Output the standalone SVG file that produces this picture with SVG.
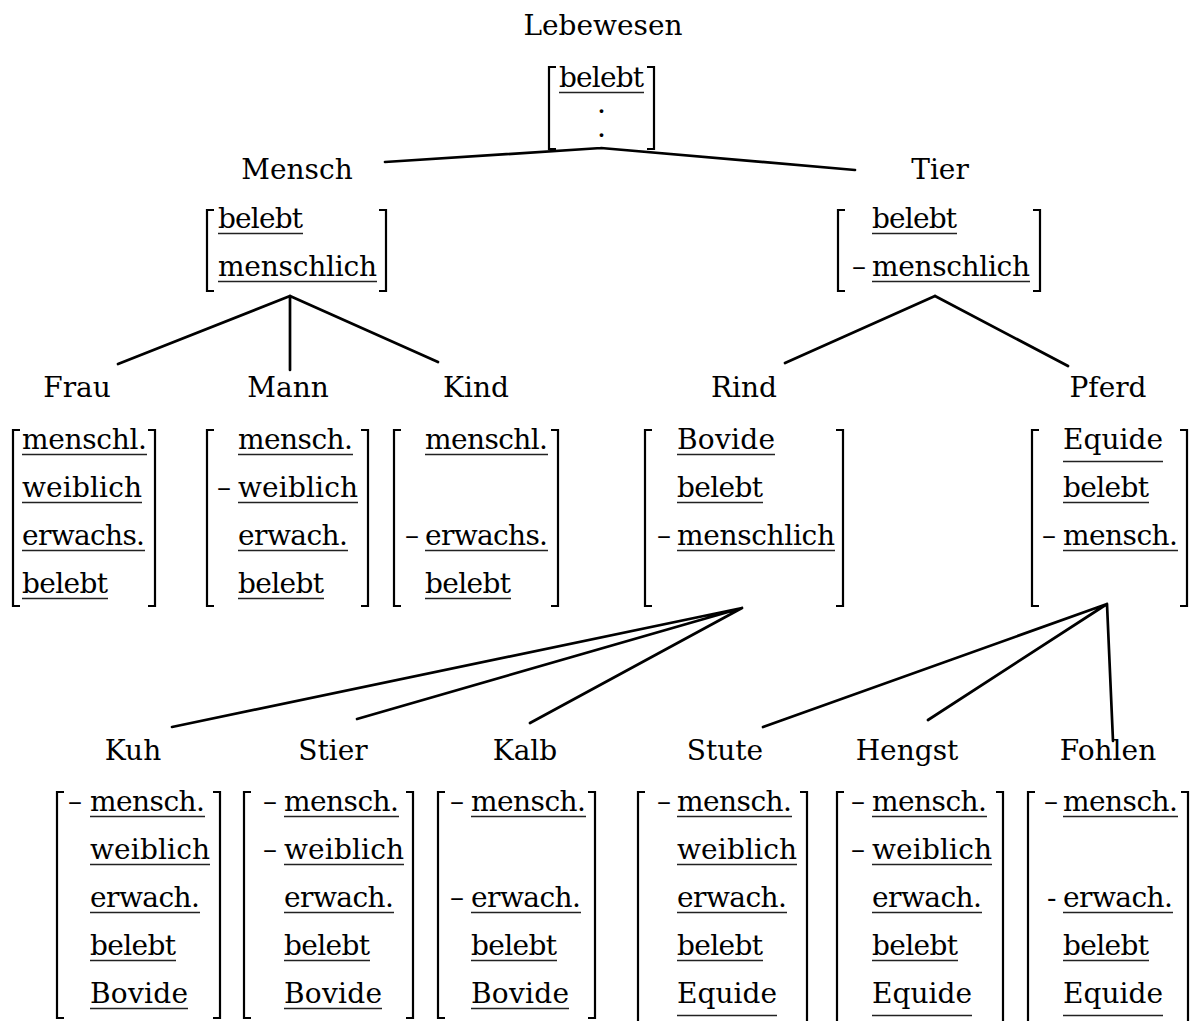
<svg xmlns="http://www.w3.org/2000/svg" width="1190" height="1021" viewBox="0 0 1190 1021">
  <style>
    text { font-family: "DejaVu Serif", "Liberation Serif", serif; font-size: 28px; fill: #000; }
    .lbl { text-anchor: middle; }
    .dot { font-size: 20px; font-weight: bold; text-anchor: middle; }
    .ul { stroke: #222; stroke-width: 1.4; fill: none; }
    .br { stroke: #000; stroke-width: 2.2; fill: none; }
    .edge { stroke: #000; stroke-width: 2.7; fill: none; stroke-linecap: round; }
  </style>
  <rect width="1190" height="1021" fill="#fff"/>

  <!-- connectors -->
  <g id="connectors">
    <path class="edge" d="M601 148 L385 162 M601 148 L855 170"/>
    <path class="edge" d="M290 296 L118 364 M290 296 L290 370 M290 296 L438 362"/>
    <path class="edge" d="M935 296 L785 363 M935 296 L1068 366"/>
    <path class="edge" d="M742 608 L172 727 M742 608 L357 719 M742 608 L530 723"/>
    <path class="edge" d="M1107 604 L763 727 M1107 604 L928 720 M1107 604 L1113 741"/>
  </g>

  <!-- root -->
  <g id="lebewesen">
    <text class="lbl" x="603" y="35">Lebewesen</text>
    <path class="br" d="M556 67 H549 V149 H556 M647 67 H654 V149 H647"/>
    <text x="559" y="87" textLength="85">belebt</text>
    <line class="ul" x1="559" y1="92.5" x2="644" y2="92.5"/>
    <text class="dot" x="601.5" y="113">.</text>
    <text class="dot" x="601.5" y="137">.</text>
  </g>

  <!-- second level -->
  <g id="mensch">
    <text class="lbl" x="297" y="179">Mensch</text>
    <path class="br" d="M214 210 H207 V291 H214 M379 210 H386 V291 H379"/>
    <text x="218" y="228" textLength="85">belebt</text>
    <line class="ul" x1="218" y1="233.5" x2="303" y2="233.5"/>
    <text x="218" y="276" textLength="159">menschlich</text>
    <line class="ul" x1="218" y1="281.5" x2="377" y2="281.5"/>
  </g>

  <g id="tier">
    <text class="lbl" x="940" y="179">Tier</text>
    <path class="br" d="M845 210 H838 V291 H845 M1033 210 H1040 V291 H1033"/>
    <text x="872" y="228" textLength="85">belebt</text>
    <line class="ul" x1="872" y1="233.5" x2="957" y2="233.5"/>
    <text x="852" y="276">–</text>
    <text x="872" y="276" textLength="158">menschlich</text>
    <line class="ul" x1="872" y1="281.5" x2="1030" y2="281.5"/>
  </g>

  <!-- third level -->
  <g id="frau">
    <text class="lbl" x="77" y="397">Frau</text>
    <path class="br" d="M20 430 H13 V606 H20 M148 430 H155 V606 H148"/>
    <text x="22" y="449" textLength="125">menschl.</text>
    <line class="ul" x1="22" y1="454.5" x2="147" y2="454.5"/>
    <text x="22" y="497" textLength="120">weiblich</text>
    <line class="ul" x1="22" y1="502.5" x2="142" y2="502.5"/>
    <text x="22" y="545" textLength="123">erwachs.</text>
    <line class="ul" x1="22" y1="550.5" x2="145" y2="550.5"/>
    <text x="22" y="593" textLength="86">belebt</text>
    <line class="ul" x1="22" y1="598.5" x2="108" y2="598.5"/>
  </g>

  <g id="mann">
    <text class="lbl" x="288" y="397">Mann</text>
    <path class="br" d="M214 430 H207 V606 H214 M361 430 H368 V606 H361"/>
    <text x="238" y="449" textLength="115">mensch.</text>
    <line class="ul" x1="238" y1="454.5" x2="353" y2="454.5"/>
    <text x="217" y="497">–</text>
    <text x="238" y="497" textLength="120">weiblich</text>
    <line class="ul" x1="238" y1="502.5" x2="358" y2="502.5"/>
    <text x="238" y="545" textLength="110">erwach.</text>
    <line class="ul" x1="238" y1="550.5" x2="348" y2="550.5"/>
    <text x="238" y="593" textLength="86">belebt</text>
    <line class="ul" x1="238" y1="598.5" x2="324" y2="598.5"/>
  </g>

  <g id="kind">
    <text class="lbl" x="476" y="397">Kind</text>
    <path class="br" d="M401 430 H394 V606 H401 M551 430 H558 V606 H551"/>
    <text x="425" y="449" textLength="123">menschl.</text>
    <line class="ul" x1="425" y1="454.5" x2="548" y2="454.5"/>
    <text x="405" y="545">–</text>
    <text x="425" y="545" textLength="123">erwachs.</text>
    <line class="ul" x1="425" y1="550.5" x2="548" y2="550.5"/>
    <text x="425" y="593" textLength="86">belebt</text>
    <line class="ul" x1="425" y1="598.5" x2="511" y2="598.5"/>
  </g>

  <g id="rind">
    <text class="lbl" x="744" y="397">Rind</text>
    <path class="br" d="M652 430 H645 V606 H652 M836 430 H843 V606 H836"/>
    <text x="677" y="449" textLength="98">Bovide</text>
    <line class="ul" x1="677" y1="454.5" x2="775" y2="454.5"/>
    <text x="677" y="497" textLength="86">belebt</text>
    <line class="ul" x1="677" y1="502.5" x2="763" y2="502.5"/>
    <text x="657" y="545">–</text>
    <text x="677" y="545" textLength="158">menschlich</text>
    <line class="ul" x1="677" y1="550.5" x2="835" y2="550.5"/>
  </g>

  <g id="pferd">
    <text class="lbl" x="1108" y="397">Pferd</text>
    <path class="br" d="M1039 430 H1032 V606 H1039 M1180 430 H1187 V606 H1180"/>
    <text x="1063" y="449" textLength="100">Equide</text>
    <line class="ul" x1="1063" y1="461.5" x2="1163" y2="461.5"/>
    <text x="1063" y="497" textLength="86">belebt</text>
    <line class="ul" x1="1063" y1="502.5" x2="1149" y2="502.5"/>
    <text x="1042" y="545">–</text>
    <text x="1063" y="545" textLength="115">mensch.</text>
    <line class="ul" x1="1063" y1="550.5" x2="1178" y2="550.5"/>
  </g>

  <!-- fourth level -->
  <g id="kuh">
    <text class="lbl" x="133" y="760">Kuh</text>
    <path class="br" d="M64 792 H57 V1018 H64 M213 792 H220 V1018 H213"/>
    <text x="68" y="811">–</text>
    <text x="90" y="811" textLength="115">mensch.</text>
    <line class="ul" x1="90" y1="816.5" x2="205" y2="816.5"/>
    <text x="90" y="859" textLength="120">weiblich</text>
    <line class="ul" x1="90" y1="864.5" x2="210" y2="864.5"/>
    <text x="90" y="907" textLength="110">erwach.</text>
    <line class="ul" x1="90" y1="912.5" x2="200" y2="912.5"/>
    <text x="90" y="955" textLength="86">belebt</text>
    <line class="ul" x1="90" y1="960.5" x2="176" y2="960.5"/>
    <text x="90" y="1003" textLength="98">Bovide</text>
    <line class="ul" x1="90" y1="1008.5" x2="188" y2="1008.5"/>
  </g>

  <g id="stier">
    <text class="lbl" x="333" y="760">Stier</text>
    <path class="br" d="M251 792 H244 V1018 H251 M406 792 H413 V1018 H406"/>
    <text x="263" y="811">–</text>
    <text x="284" y="811" textLength="115">mensch.</text>
    <line class="ul" x1="284" y1="816.5" x2="399" y2="816.5"/>
    <text x="263" y="859">–</text>
    <text x="284" y="859" textLength="120">weiblich</text>
    <line class="ul" x1="284" y1="864.5" x2="404" y2="864.5"/>
    <text x="284" y="907" textLength="110">erwach.</text>
    <line class="ul" x1="284" y1="912.5" x2="394" y2="912.5"/>
    <text x="284" y="955" textLength="86">belebt</text>
    <line class="ul" x1="284" y1="960.5" x2="370" y2="960.5"/>
    <text x="284" y="1003" textLength="98">Bovide</text>
    <line class="ul" x1="284" y1="1008.5" x2="382" y2="1008.5"/>
  </g>

  <g id="kalb">
    <text class="lbl" x="525" y="760">Kalb</text>
    <path class="br" d="M445 792 H438 V1018 H445 M588 792 H595 V1018 H588"/>
    <text x="450" y="811">–</text>
    <text x="471" y="811" textLength="115">mensch.</text>
    <line class="ul" x1="471" y1="816.5" x2="586" y2="816.5"/>
    <text x="450" y="907">–</text>
    <text x="471" y="907" textLength="110">erwach.</text>
    <line class="ul" x1="471" y1="912.5" x2="581" y2="912.5"/>
    <text x="471" y="955" textLength="86">belebt</text>
    <line class="ul" x1="471" y1="960.5" x2="557" y2="960.5"/>
    <text x="471" y="1003" textLength="98">Bovide</text>
    <line class="ul" x1="471" y1="1008.5" x2="569" y2="1008.5"/>
  </g>

  <g id="stute">
    <text class="lbl" x="725" y="760">Stute</text>
    <path class="br" d="M645 792 H638 V1030 M800 792 H807 V1030"/>
    <text x="657" y="811">–</text>
    <text x="677" y="811" textLength="115">mensch.</text>
    <line class="ul" x1="677" y1="816.5" x2="792" y2="816.5"/>
    <text x="677" y="859" textLength="120">weiblich</text>
    <line class="ul" x1="677" y1="864.5" x2="797" y2="864.5"/>
    <text x="677" y="907" textLength="110">erwach.</text>
    <line class="ul" x1="677" y1="912.5" x2="787" y2="912.5"/>
    <text x="677" y="955" textLength="86">belebt</text>
    <line class="ul" x1="677" y1="960.5" x2="763" y2="960.5"/>
    <text x="677" y="1003" textLength="100">Equide</text>
    <line class="ul" x1="677" y1="1015.5" x2="777" y2="1015.5"/>
  </g>

  <g id="hengst">
    <text class="lbl" x="907" y="760">Hengst</text>
    <path class="br" d="M844 792 H837 V1030 M996 792 H1003 V1030"/>
    <text x="851" y="811">–</text>
    <text x="872" y="811" textLength="115">mensch.</text>
    <line class="ul" x1="872" y1="816.5" x2="987" y2="816.5"/>
    <text x="851" y="859">–</text>
    <text x="872" y="859" textLength="120">weiblich</text>
    <line class="ul" x1="872" y1="864.5" x2="992" y2="864.5"/>
    <text x="872" y="907" textLength="110">erwach.</text>
    <line class="ul" x1="872" y1="912.5" x2="982" y2="912.5"/>
    <text x="872" y="955" textLength="86">belebt</text>
    <line class="ul" x1="872" y1="960.5" x2="958" y2="960.5"/>
    <text x="872" y="1003" textLength="100">Equide</text>
    <line class="ul" x1="872" y1="1015.5" x2="972" y2="1015.5"/>
  </g>

  <g id="fohlen">
    <text class="lbl" x="1108" y="760">Fohlen</text>
    <path class="br" d="M1035 792 H1028 V1030 M1181 792 H1188 V1030"/>
    <text x="1044" y="811">–</text>
    <text x="1063" y="811" textLength="115">mensch.</text>
    <line class="ul" x1="1063" y1="816.5" x2="1178" y2="816.5"/>
    <text x="1047" y="907">-</text>
    <text x="1063" y="907" textLength="110">erwach.</text>
    <line class="ul" x1="1063" y1="912.5" x2="1173" y2="912.5"/>
    <text x="1063" y="955" textLength="86">belebt</text>
    <line class="ul" x1="1063" y1="960.5" x2="1149" y2="960.5"/>
    <text x="1063" y="1003" textLength="100">Equide</text>
    <line class="ul" x1="1063" y1="1015.5" x2="1163" y2="1015.5"/>
  </g>
</svg>
